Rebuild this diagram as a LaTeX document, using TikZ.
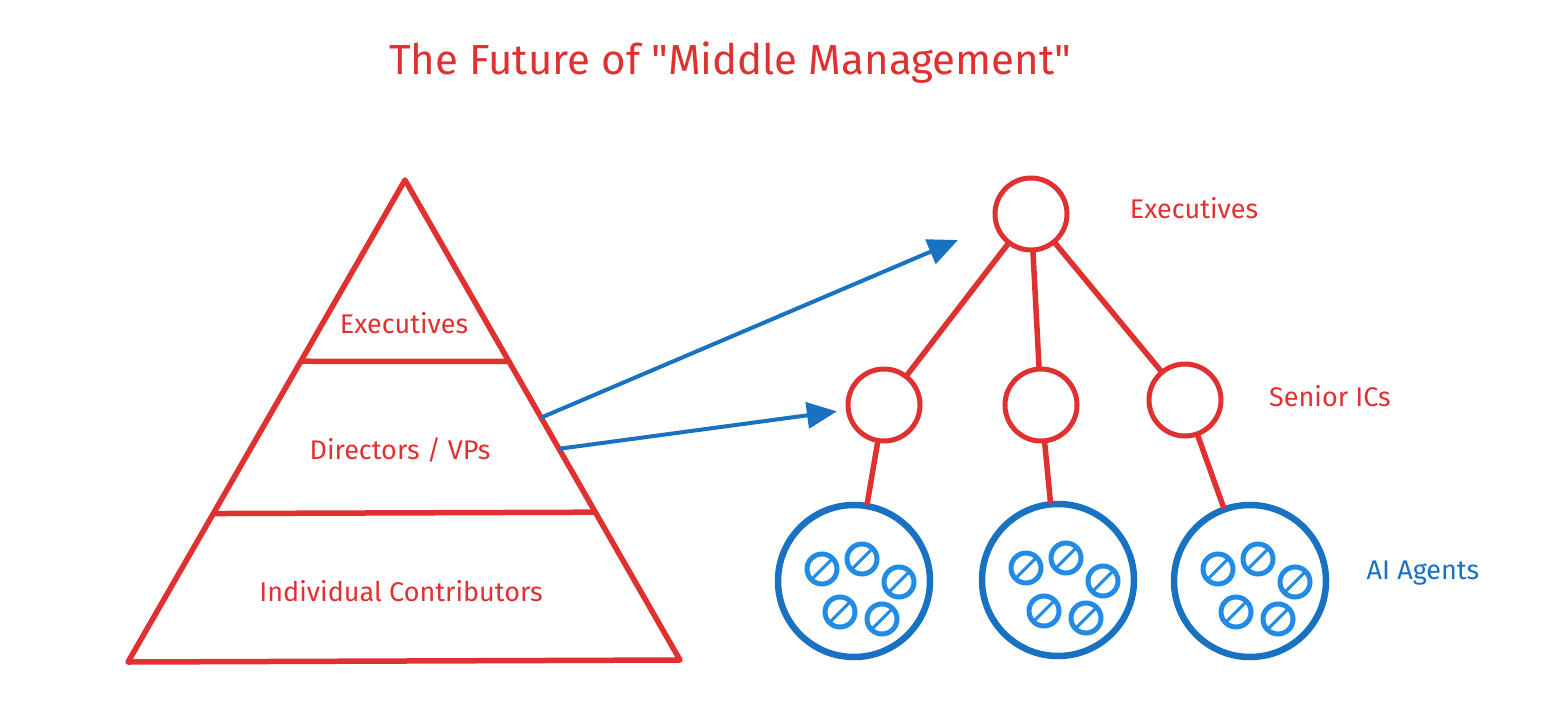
\documentclass[tikz,border=0pt]{standalone}
\usepackage{fontspec}
\setmainfont{Fira Sans}
\usetikzlibrary{calc,arrows.meta}

\definecolor{penred}{RGB}{224,49,49}
\definecolor{penblue}{RGB}{25,113,194}
\definecolor{botblue}{RGB}{34,139,230}
\newcommand\plainquote{\XeTeXglyph\XeTeXcharglyph"22\relax}

\tikzset{every picture/.style={line width=0.75pt}}
\tikzset{
  redline/.style={draw=penred,line width=5.5pt,line cap=round,line join=round},
  person/.style={circle,draw=penred,line width=5pt,minimum size=72pt,inner sep=0pt},
  team/.style={circle,draw=penblue,line width=6.5pt,minimum size=152pt,inner sep=0pt},
  bot/.style={circle,draw=botblue,line width=5pt,minimum size=30pt,inner sep=0pt},
  slash/.style={draw=botblue,line width=3pt,shorten <=4pt,shorten >=4pt},
  redlabel/.style={text=penred,font=\fontsize{27}{32}\selectfont},
  bluelabel/.style={text=penblue,font=\fontsize{27}{32}\selectfont},
  pointer/.style={draw=penblue,line width=4pt,-{Triangle[length=30pt,width=26pt]}},
}

\begin{document}
\begin{tikzpicture}[x=1pt,y=1pt,yscale=-1,xscale=1]
\useasboundingbox (0,0) rectangle (1568,720);

% title
\node (title) [text=penred,font=\fontsize{42}{50}\selectfont] at (730,63) {The Future of \plainquote Middle Management\plainquote};

% pyramid
\coordinate (apex) at (405,180);
\coordinate (baseL) at (128,662);
\coordinate (baseR) at (680,660);
\draw [redline] (baseL) -- (apex) -- (baseR) -- cycle;
\draw [redline] ($(apex)!0.376!(baseL)$) -- ($(apex)!0.378!(baseR)$);
\draw [redline] ($(apex)!0.692!(baseL)$) -- ($(apex)!0.692!(baseR)$);

\node (pyrExec) [redlabel] at (404,323) {Executives};
\node (pyrDir) [redlabel] at (400,450) {Directors / VPs};
\node (pyrIC) [redlabel] at (401,591) {Individual Contributors};

% tree
\node (exec) [person] at (1031,214) {};
\node (senior1) [person] at (884,405) {};
\node (senior2) [person] at (1041,405) {};
\node (senior3) [person] at (1185,400) {};
\node (team1) [team] at (854,581) {};
\node (team2) [team] at (1058,580) {};
\node (team3) [team] at (1250,581) {};

\foreach \s in {1,2,3}{
  \draw [redline] (exec) -- (senior\s);
  \draw [redline] (senior\s) -- (team\s);
}

% agents inside each team
\foreach \t in {1,2,3}{
  \foreach \dx/\dy [count=\k] in {-32/-12,8/-22,45/1,-14/31,28/38}{
    \node (bot\t\k) [bot] at ($(team\t)+(\dx,\dy)$) {};
    \draw [slash] (bot\t\k.south west) -- (bot\t\k.north east);
  }
}

\node (execLbl) [redlabel] at (1194,208) {Executives};
\node (seniorLbl) [redlabel] at (1330,396) {Senior ICs};
\node (agentLbl) [bluelabel] at (1423,573) {AI Agents};

% arrows from the middle layer
\coordinate (fromTop) at ($(apex)!0.495!(baseR)$);
\coordinate (fromLow) at ($(apex)!0.56!(baseR)$);
\coordinate (toExec) at (958,240);
\draw [pointer] (fromTop) -- (toExec);
\draw [pointer,shorten >=9pt] (fromLow) -- (senior1);

\end{tikzpicture}
\end{document}
